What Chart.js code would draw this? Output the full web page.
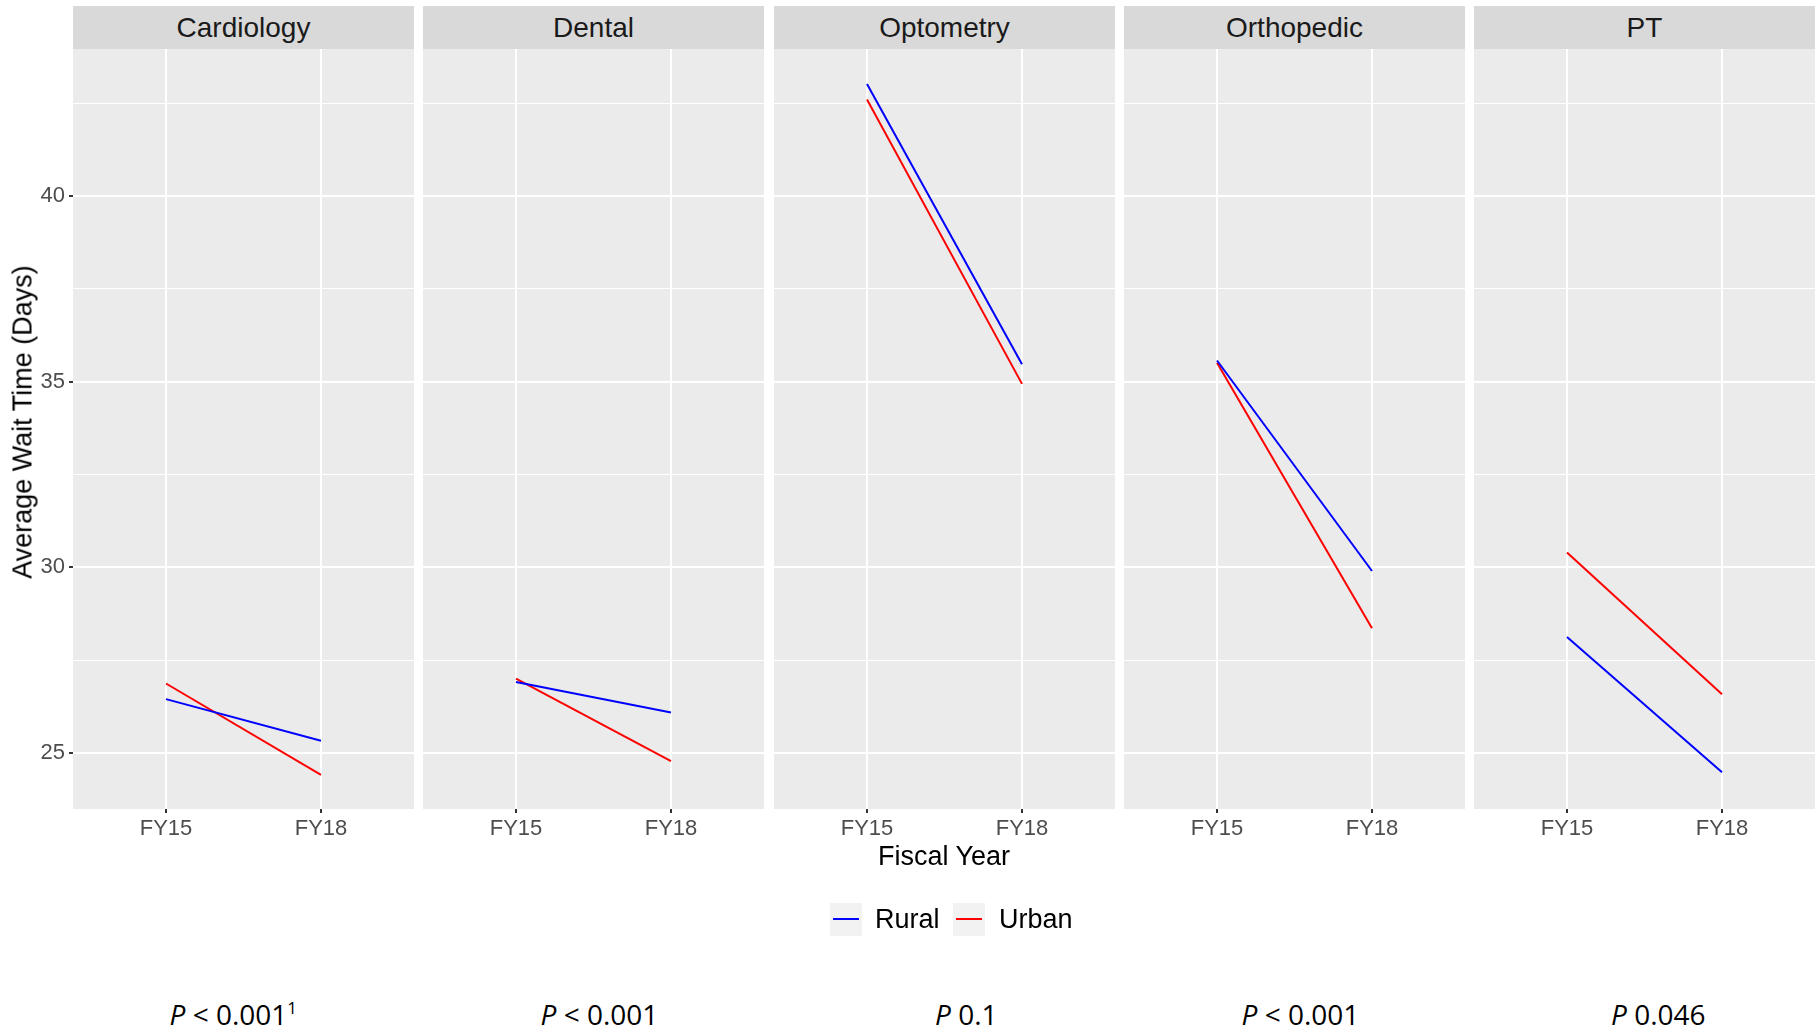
<!DOCTYPE html>
<html>
<head>
<meta charset="utf-8">
<script src="https://cdn.jsdelivr.net/npm/chart.js@4.4.0/dist/chart.umd.min.js"></script>
<style>
  body { margin: 0; background: #fff; font-family: "Liberation Sans", Arial, sans-serif; }
  #wrap { position: relative; width: 1819px; height: 1030px; overflow: hidden; }
  canvas { position: absolute; }
  .strip { position: absolute; top: 6px; height: 43px; line-height: 43px; background: #d9d9d9;
           color: #1a1a1a; font-size: 28px; text-align: center; }
  .txt { position: absolute; color: #000; white-space: nowrap; }
  .key { position: absolute; top: 903px; width: 32px; height: 33px; background: #f2f2f2; }
  .key span { position: absolute; left: 3px; right: 3px; top: 15px; height: 2px; }
  .pval { position: absolute; top: 995px; font-family: "Open Sans", sans-serif; font-size: 28px;
          color: #000; white-space: nowrap; }
</style>
</head>
<body>
<div id="wrap"></div>
<script>
// facets
const categories = ['Cardiology', 'Dental', 'Optometry', 'Orthopedic', 'PT'];
const years = ['FY15', 'FY18'];
// average wait time (days), [FY15, FY18]
const rural = [[26.45, 25.33], [26.91, 26.09], [43.02, 35.47], [35.57, 29.90], [28.12, 24.48]];
const urban = [[26.87, 24.41], [27.00, 24.78], [42.60, 34.94], [35.51, 28.36], [30.40, 26.58]];
const yTicks = [25, 27.5, 30, 32.5, 35, 37.5, 40, 42.5];
const pLabels = ['< 0.001', '< 0.001', '0.1', '< 0.001', '0.046'];
const pNotes = ['1', '', '', '', ''];

const wrap = document.getElementById('wrap');
const panelW = 341, panelTop = 49, plotH = 760, axisH = 40, yAxisW = 73;
const panelLeft = i => Math.round(73 + i * 350.3);

const panelBg = {
  id: 'panelBg',
  beforeDraw(chart) {
    const a = chart.chartArea, c = chart.ctx;
    c.save();
    c.fillStyle = '#ebebeb';
    c.fillRect(a.left, a.top, a.right - a.left, a.bottom - a.top);
    c.restore();
  }
};

const noPad = s => { s.paddingTop = 0; s.paddingBottom = 0; s.paddingLeft = 0; s.paddingRight = 0; };

categories.forEach((cat, i) => {
  const first = i === 0;
  const cv = document.createElement('canvas');
  const w = first ? panelW + yAxisW : panelW;
  cv.width = w;
  cv.height = plotH + axisH;
  cv.style.left = (first ? panelLeft(0) - yAxisW : panelLeft(i)) + 'px';
  cv.style.top = panelTop + 'px';
  wrap.appendChild(cv);

  const strip = document.createElement('div');
  strip.className = 'strip';
  strip.style.left = panelLeft(i) + 'px';
  strip.style.width = panelW + 'px';
  strip.textContent = cat;
  wrap.appendChild(strip);

  new Chart(cv.getContext('2d'), {
    type: 'line',
    data: {
      datasets: [
        { label: 'Rural', data: rural[i].map((v, j) => ({ x: j + 1, y: v })),
          borderColor: '#0000ff', borderWidth: 2, pointRadius: 0 },
        { label: 'Urban', data: urban[i].map((v, j) => ({ x: j + 1, y: v })),
          borderColor: '#ff0000', borderWidth: 2, pointRadius: 0 }
      ]
    },
    options: {
      responsive: false,
      animation: false,
      layout: { padding: 0, autoPadding: false },
      plugins: { legend: { display: false }, tooltip: { enabled: false } },
      scales: {
        x: {
          type: 'linear', min: 0.4, max: 2.6,
          afterBuildTicks: s => { s.ticks = years.map((y, j) => ({ value: j + 1 })); },
          afterFit: s => { s.height = axisH; noPad(s); },
          border: { display: false },
          grid: { color: '#ffffff', lineWidth: 2, tickColor: '#333333', tickLength: 4 },
          ticks: { callback: v => years[v - 1], font: { size: 22, family: 'Liberation Sans' },
                   color: '#4d4d4d', padding: 3, maxRotation: 0 }
        },
        y: {
          min: 23.49, max: 43.96,
          afterBuildTicks: s => { s.ticks = yTicks.map(v => ({ value: v })); },
          afterFit: s => { s.width = first ? yAxisW : 0; noPad(s); },
          border: { display: false },
          grid: {
            color: '#ffffff',
            lineWidth: c => (c.tick && c.tick.value % 5 === 0 ? 2 : 1),
            tickColor: c => (c.tick && c.tick.value % 5 === 0 ? '#333333' : 'rgba(0,0,0,0)'),
            drawTicks: first, tickLength: 4
          },
          ticks: { display: first, callback: v => (v % 5 === 0 ? v : ''),
                   font: { size: 22, family: 'Liberation Sans' }, color: '#4d4d4d', padding: 4 }
        }
      }
    },
    plugins: [panelBg]
  });

  const p = document.createElement('div');
  p.className = 'pval';
  p.innerHTML = '<i>P</i> ' + pLabels[i].replace('<', '&lt;') + (pNotes[i] ? '<sup style="font-size:17px;vertical-align:11px">' + pNotes[i] + '</sup>' : '');
  wrap.appendChild(p);
  p.style.left = (panelLeft(i) + panelW / 2 - p.offsetWidth / 2 + (i === 2 ? 22 : i === 4 ? 14 : i === 0 ? -10 : 6)) + 'px';
});

// axis titles
const yTitle = document.createElement('div');
yTitle.className = 'txt';
yTitle.style.cssText += 'font-size:27px;left:23px;top:422px;transform:translate(-50%,-50%) rotate(-90deg);';
yTitle.textContent = 'Average Wait Time (Days)';
wrap.appendChild(yTitle);

const xTitle = document.createElement('div');
xTitle.className = 'txt';
xTitle.style.cssText += 'font-size:27px;left:944px;top:856px;transform:translate(-50%,-50%);';
xTitle.textContent = 'Fiscal Year';
wrap.appendChild(xTitle);

// legend
[['Rural', '#0000ff', 830, 875], ['Urban', '#ff0000', 953, 999]].forEach(([name, col, kx, tx]) => {
  const k = document.createElement('div');
  k.className = 'key';
  k.style.left = kx + 'px';
  k.innerHTML = '<span style="background:' + col + '"></span>';
  wrap.appendChild(k);
  const t = document.createElement('div');
  t.className = 'txt';
  t.style.cssText += 'font-size:27px;left:' + tx + 'px;top:919px;transform:translateY(-50%);';
  t.textContent = name;
  wrap.appendChild(t);
});
</script>
</body>
</html>
